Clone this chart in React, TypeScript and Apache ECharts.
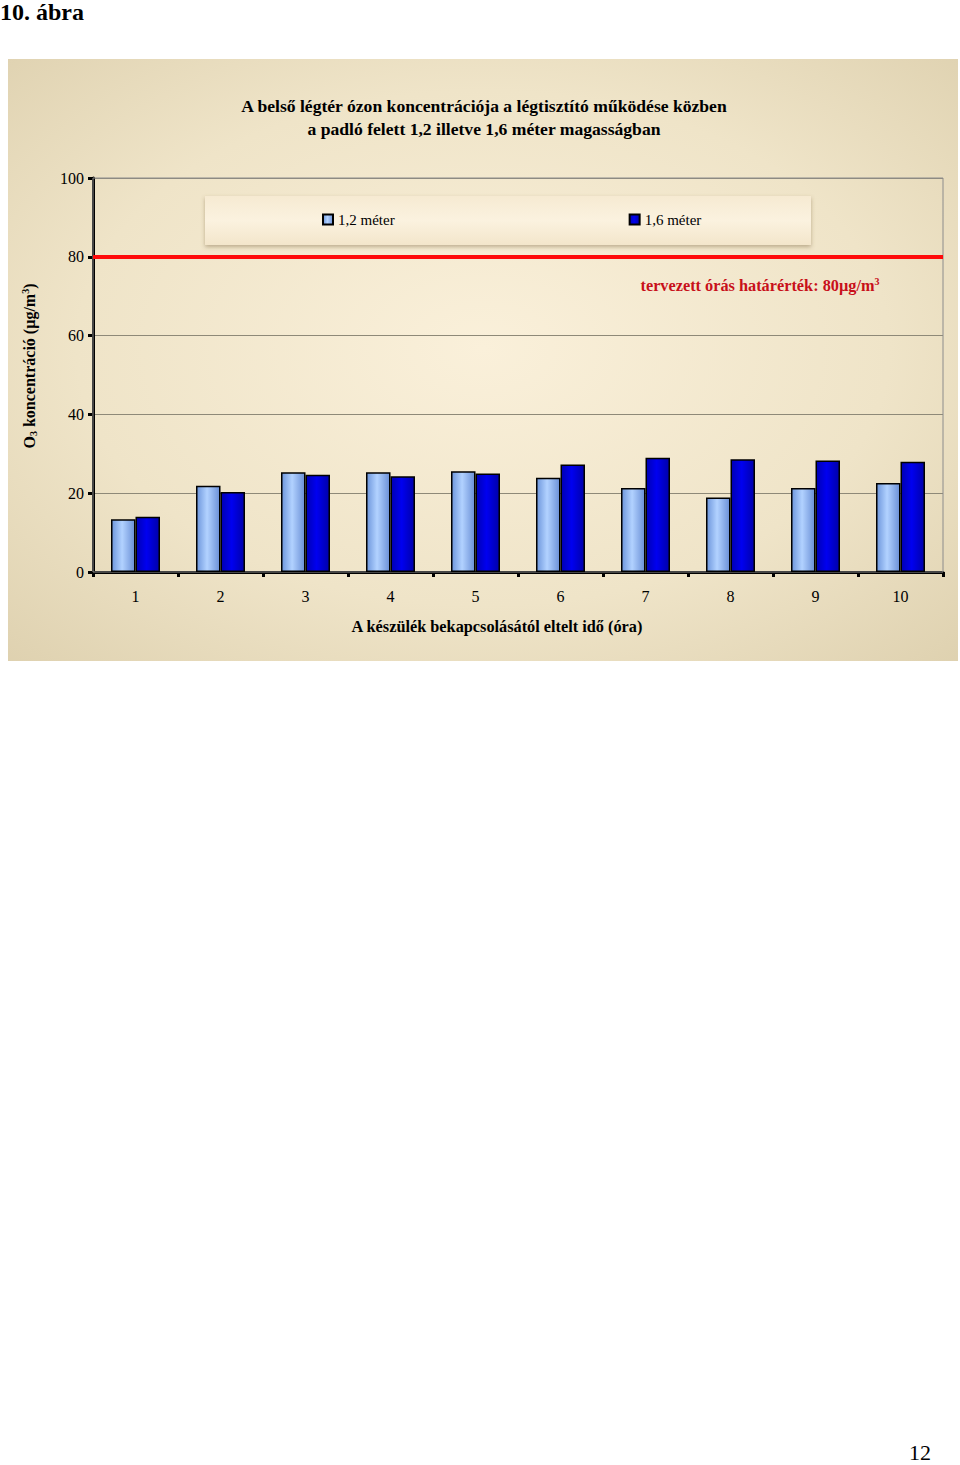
import React, { useEffect, useRef } from "react";
import * as echarts from "echarts";

const categories = ["1", "2", "3", "4", "5", "6", "7", "8", "9", "10"];
const series12 = [13.4, 21.9, 25.3, 25.3, 25.6, 23.9, 21.3, 18.9, 21.3, 22.6];
const series16 = [14.0, 20.3, 24.7, 24.3, 25.0, 27.3, 29.0, 28.6, 28.3, 28.0];
const seriesNames = ["1,2 méter", "1,6 méter"];
const limitValue = 80;
const yTicks = [0, 20, 40, 60, 80, 100];

const SERIF = "'Liberation Serif', 'Times New Roman', serif";

export default function App() {
  const ref = useRef<HTMLDivElement>(null);
  useEffect(() => {
    if (!ref.current) return;
    const chart = echarts.init(ref.current, undefined, { renderer: "svg" });
    const lightGrad = new echarts.graphic.LinearGradient(0, 0, 1, 0, [
      { offset: 0, color: "#6d96dc" },
      { offset: 0.45, color: "#b2d2ff" },
      { offset: 1, color: "#6a8fd6" },
    ]);
    const darkGrad = new echarts.graphic.LinearGradient(0, 0, 1, 0, [
      { offset: 0, color: "#0000b4" },
      { offset: 0.45, color: "#0000f0" },
      { offset: 1, color: "#0000aa" },
    ]);
    chart.setOption({
      animation: false,
      grid: {
        left: 93,
        top: 178,
        width: 850,
        height: 394,
        show: true,
        borderColor: "#8c8c8c",
        borderWidth: 1,
        backgroundColor: "transparent",
        z: 1,
      },
      legend: {
        data: seriesNames,
        left: 317,
        top: 207,
        itemWidth: 10,
        itemHeight: 10,
        itemGap: 234,
        icon: "rect",
        z: 10,
        textStyle: { fontFamily: SERIF, fontSize: 15, color: "#000" },
      },
      xAxis: {
        type: "category",
        data: categories,
        axisLine: { lineStyle: { color: "#000", width: 3 } },
        axisTick: { show: true, length: 5, lineStyle: { color: "#000", width: 3 } },
        axisLabel: { fontFamily: SERIF, fontSize: 16, color: "#000", margin: 16 },
        splitLine: { show: false },
      },
      yAxis: {
        type: "value",
        min: 0,
        max: 100,
        interval: 20,
        axisLine: { show: true, lineStyle: { color: "#000", width: 3 } },
        axisTick: { show: true, length: 5, lineStyle: { color: "#000", width: 3 } },
        axisLabel: {
          fontFamily: SERIF,
          fontSize: 16,
          color: "#000",
          margin: 9,
          formatter: (v: number) => (yTicks.includes(v) ? String(v) : ""),
        },
        splitLine: { show: true, lineStyle: { color: "#8e8978", width: 1 } },
      },
      series: [
        {
          name: seriesNames[0],
          type: "bar",
          data: series12,
          barWidth: 24.5,
          barGap: "0%",
          z: 3,
          itemStyle: { color: lightGrad, borderColor: "#000", borderWidth: 1.5 },
        },
        {
          name: seriesNames[1],
          type: "bar",
          data: series16,
          barWidth: 24.5,
          barGap: "0%",
          z: 3,
          itemStyle: { color: darkGrad, borderColor: "#000", borderWidth: 1.5 },
          markLine: {
            silent: true,
            symbol: "none",
            label: { show: false },
            lineStyle: { color: "#ff0a0a", width: 4, type: "solid" },
            data: [{ yAxis: limitValue }],
            z: 4,
          },
        },
      ],
      graphic: [
        {
          type: "rect",
          z: -10,
          shape: { x: 8, y: 59, width: 950, height: 602 },
          style: {
            fill: {
              type: "radial",
              x: 0.5,
              y: 0.48,
              r: 0.95,
              colorStops: [
                { offset: 0, color: "#faf0da" },
                { offset: 0.45, color: "#efe4c8" },
                { offset: 1, color: "#d2c39d" },
              ],
            },
          },
        },
        {
          type: "rect",
          z: 5,
          shape: { x: 205, y: 196, width: 606, height: 49 },
          style: {
            fill: {
              type: "linear",
              x: 0,
              y: 0,
              x2: 0,
              y2: 1,
              colorStops: [
                { offset: 0, color: "#f6ead2" },
                { offset: 0.5, color: "#fbf2df" },
                { offset: 1, color: "#f3e6cb" },
              ],
            },
            shadowBlur: 4,
            shadowOffsetY: 2,
            shadowColor: "rgba(120,100,60,0.45)",
          },
        },
        {
          type: "text",
          z: 20,
          x: 0,
          y: 0,
          style: {
            text: "10. ábra",
            fontFamily: SERIF,
            fontSize: 24,
            fontWeight: "bold",
            fill: "#000",
            textAlign: "left",
            textVerticalAlign: "top",
          },
        },
        {
          type: "text",
          z: 20,
          x: 484,
          y: 117,
          style: {
            text: "A belső légtér ózon koncentrációja a légtisztító működése közben\na padló felett 1,2 illetve 1,6 méter magasságban",
            fontFamily: SERIF,
            fontSize: 17.6,
            fontWeight: "bold",
            lineHeight: 23,
            fill: "#000",
            textAlign: "center",
            textVerticalAlign: "middle",
          },
        },
        {
          type: "text",
          z: 20,
          x: 760,
          y: 285,
          style: {
            text: "{a|tervezett órás határérték: 80µg/m}{s|3}",
            textAlign: "center",
            textVerticalAlign: "middle",
            rich: {
              a: { fontFamily: SERIF, fontSize: 16.3, fontWeight: "bold", fill: "#c8101a", color: "#c8101a" },
              s: { fontFamily: SERIF, fontSize: 10, fontWeight: "bold", fill: "#c8101a", color: "#c8101a", verticalAlign: "top", padding: [0, 0, 8, 0] },
            },
          },
        },
        {
          type: "text",
          z: 20,
          x: 29,
          y: 366,
          rotation: Math.PI / 2,
          style: {
            text: "{n|O}{d|3}{n| koncentráció (µg/m}{u|3}{n|)}",
            textAlign: "center",
            textVerticalAlign: "middle",
            rich: {
              n: { fontFamily: SERIF, fontSize: 16, fontWeight: "bold", color: "#000", fill: "#000" },
              d: { fontFamily: SERIF, fontSize: 10, fontWeight: "bold", color: "#000", fill: "#000", verticalAlign: "bottom", padding: [6, 0, 0, 0] },
              u: { fontFamily: SERIF, fontSize: 10, fontWeight: "bold", color: "#000", fill: "#000", verticalAlign: "top", padding: [0, 0, 8, 0] },
            },
          },
        },
        {
          type: "text",
          z: 20,
          x: 497,
          y: 626,
          style: {
            text: "A készülék bekapcsolásától eltelt idő (óra)",
            fontFamily: SERIF,
            fontSize: 16.3,
            fontWeight: "bold",
            fill: "#000",
            textAlign: "center",
            textVerticalAlign: "middle",
          },
        },
        {
          type: "text",
          z: 20,
          x: 920,
          y: 1452,
          style: {
            text: "12",
            fontFamily: SERIF,
            fontSize: 22,
            fill: "#000",
            textAlign: "center",
            textVerticalAlign: "middle",
          },
        },
      ],
    });
    return () => chart.dispose();
  }, []);
  return (
    <div
      ref={ref}
      style={{ position: "absolute", left: 0, top: 0, width: 960, height: 1465, background: "#fff" }}
    />
  );
}
